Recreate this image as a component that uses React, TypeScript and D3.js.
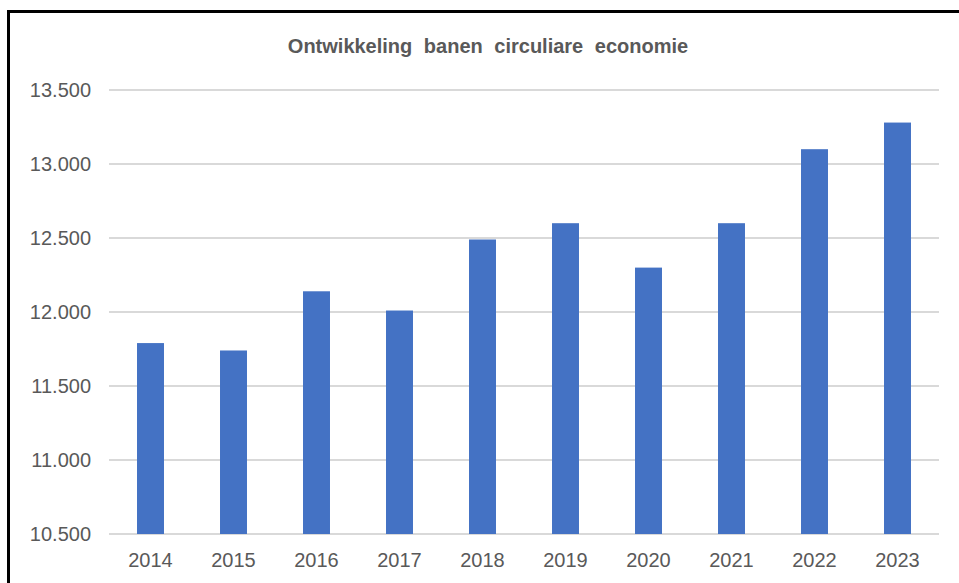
import React from "react";
import * as d3 from "d3";

const years = ["2014", "2015", "2016", "2017", "2018", "2019", "2020", "2021", "2022", "2023"];
const jobs = [11790, 11740, 12140, 12010, 12490, 12600, 12300, 12600, 13100, 13280];
const yTicks = [10500, 11000, 11500, 12000, 12500, 13000, 13500];
const title = "Ontwikkeling banen circuliare economie";

const W = 959;
const H = 583;
const left = 109;
const right = 939;
const top = 90;
const bottom = 534;

export default function App() {
  const x = d3.scaleBand<string>().domain(years).range([left, right]).paddingInner(0.675).paddingOuter(0.3375);
  const y = d3.scaleLinear().domain([10500, 13500]).range([bottom, top]);
  const fmt = (v: number) => d3.format(",")(v).replace(/,/g, ".");
  const font = "'Liberation Sans', Arial, sans-serif";
  return (
    <svg width={W} height={H} style={{ position: "absolute", left: 0, top: 0, background: "#fff" }}>
      <rect x={0} y={0} width={W} height={H} fill="#fff" />
      <rect x={8.5} y={11.5} width={W + 20} height={H + 20} fill="none" stroke="#000" strokeWidth={3} />
      <text x={488} y={53} textAnchor="middle" fontFamily={font} fontWeight="bold" fontSize={20} fill="#595959" style={{ wordSpacing: "6px" }}>
        {title}
      </text>
      {yTicks.map((t) => (
        <g key={t}>
          <line x1={left} x2={right} y1={y(t)} y2={y(t)} stroke="#d9d9d9" strokeWidth={2} />
          <text x={91} y={y(t) + 7} textAnchor="end" fontFamily={font} fontSize={20} fill="#595959">
            {fmt(t)}
          </text>
        </g>
      ))}
      {years.map((yr, i) => (
        <rect key={yr} x={x(yr)} y={y(jobs[i])} width={x.bandwidth()} height={bottom - y(jobs[i])} fill="#4472C4" />
      ))}
      {years.map((yr) => (
        <text key={yr} x={(x(yr) as number) + x.bandwidth() / 2} y={567} textAnchor="middle" fontFamily={font} fontSize={20} fill="#595959">
          {yr}
        </text>
      ))}
    </svg>
  );
}
